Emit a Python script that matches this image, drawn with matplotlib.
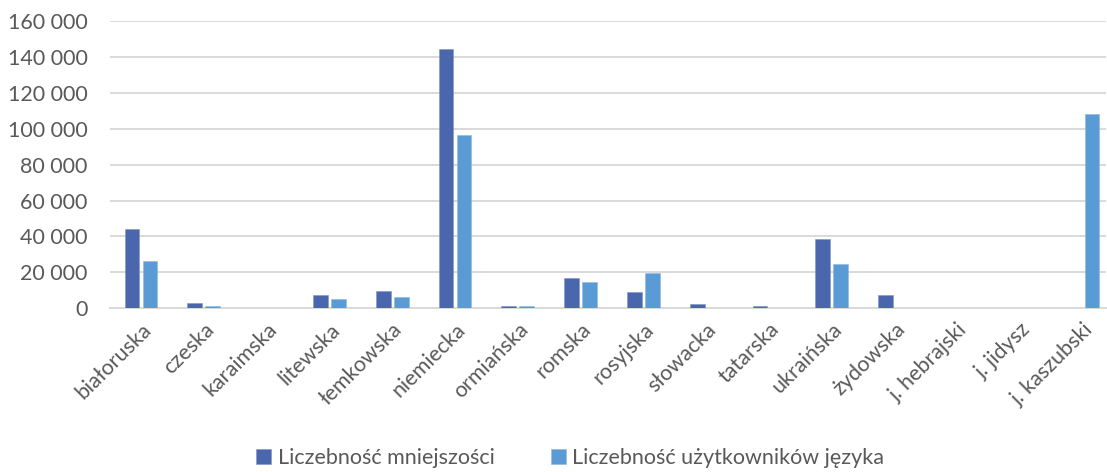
import numpy as np
import matplotlib
matplotlib.use("Agg")
import matplotlib.pyplot as plt
from matplotlib.ticker import FuncFormatter

plt.rcParams['font.family'] = ['Lato', 'DejaVu Sans']

kategorie = ['białoruska', 'czeska', 'karaimska', 'litewska', 'łemkowska',
             'niemiecka', 'ormiańska', 'romska', 'rosyjska', 'słowacka',
             'tatarska', 'ukraińska', 'żydowska', 'j. hebrajski', 'j. jidysz',
             'j. kaszubski']
mniejszosc = [43900, 2700, 300, 7300, 9500, 144200, 1500, 16800, 8800, 2500,
              1500, 38500, 7300, 0, 0, 0]
uzytkownicy = [26600, 1200, 0, 5000, 6100, 96400, 1500, 14500, 19800, 400,
               0, 24900, 0, 150, 0, 108100]

c_dark = '#4A66AC'
c_light = '#5B9BD5'
grey_txt = '#595959'

fig = plt.figure(figsize=(11.07, 4.72), dpi=100)
ax = fig.add_axes([109.6/1107, 1 - 308.3/472, (1106 - 109.6)/1107, (308.3 - 21)/472])

x = np.arange(len(kategorie))
w = 0.235
off = 0.143
ax.bar(x - off, mniejszosc, w, color=c_dark, edgecolor='#7f93c4', linewidth=0.4,
       label='Liczebność mniejszości', zorder=3)
ax.bar(x + off, uzytkownicy, w, color=c_light, edgecolor='#8cb9e2', linewidth=0.4,
       label='Liczebność użytkowników języka', zorder=3)

ax.set_xlim(-0.5, (1106 - 109.6)/62.8 - 0.5)
ax.set_ylim(0, 160000)
ax.set_yticks(np.arange(0, 160001, 20000))
ax.yaxis.set_major_formatter(FuncFormatter(lambda v, p: f"{int(v):,}".replace(",", " ")))
ax.grid(axis='y', color='#D9D9D9', linewidth=1.4, zorder=0)
for s in ['top', 'right', 'left']:
    ax.spines[s].set_visible(False)
ax.spines['bottom'].set_color('#D9D9D9')
ax.spines['bottom'].set_linewidth(1.4)
ax.tick_params(axis='y', length=0, pad=16, labelsize=15.5, labelcolor=grey_txt)
ax.tick_params(axis='x', length=0, pad=8, labelsize=15.5, labelcolor=grey_txt)
ax.set_xticks(x)
ax.set_xticklabels(kategorie, rotation=45, ha='right', va='top', rotation_mode='anchor')

fig.legend(loc='lower center', bbox_to_anchor=(0.515, -0.032), ncol=2, frameon=False,
           fontsize=15.5, labelcolor=grey_txt, handlelength=0.7, handleheight=0.7,
           handletextpad=0.3, columnspacing=2.6)

fig.savefig('out.png', dpi=100)
